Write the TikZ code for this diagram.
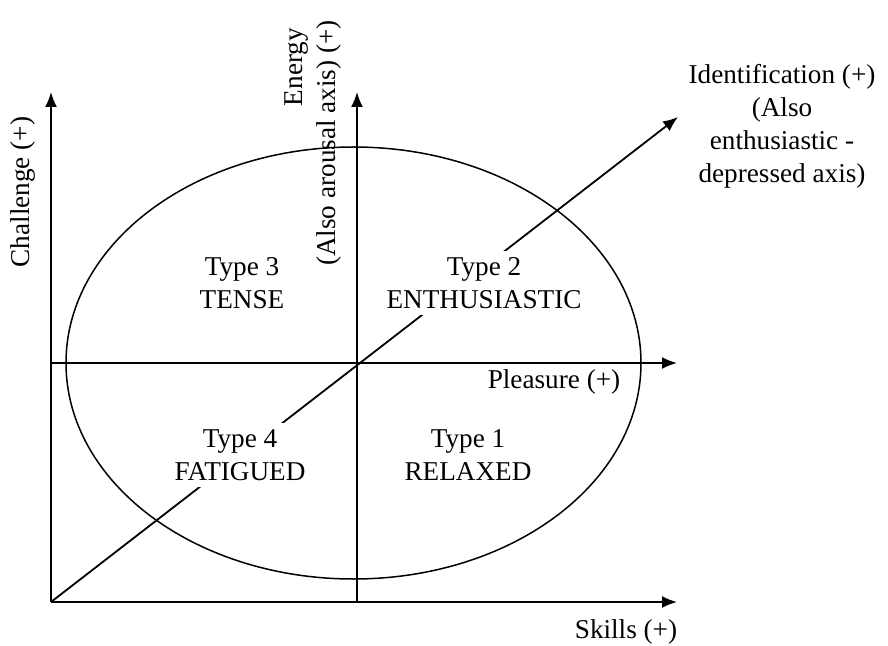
\documentclass[tikz,border=0pt]{standalone}
\usepackage{fontspec}
\setmainfont{Liberation Serif}
\usetikzlibrary{arrows.meta}
\begin{document}
\begin{tikzpicture}[x=0.5pt, y=-0.5pt,
  axis/.style={line width=0.9pt, -{Latex[length=7.5pt,width=6pt]}},
  lbl/.style={font=\fontsize{13.6}{16.5}\selectfont, align=center, inner sep=0pt},
  quad/.style={lbl, fill=white, inner sep=3pt}]
\useasboundingbox (0,0) rectangle (888,646);
\coordinate (O) at (51,602);
\coordinate (X) at (677,602);
\coordinate (Y) at (51,92);
\coordinate (M) at (357,363);
\coordinate (W) at (51,363);
\coordinate (P) at (677,363);
\coordinate (S) at (357,602);
\coordinate (E) at (357,92);
\coordinate (I) at (678,117);
\draw[line width=0.75pt] (353.5,363) ellipse [x radius=287.5, y radius=216];
\draw[axis] (O) -- (X);
\draw[axis] (O) -- (Y);
\draw[axis] (W) -- (P);
\draw[axis] (S) -- (E);
\draw[axis] (O) -- (I);
\node[quad] (t3) at (242,283) {Type 3\\TENSE};
\node[quad] (t2) at (484,283) {Type 2\\ENTHUSIASTIC};
\node[quad] (t4) at (240,455) {Type 4\\FATIGUED};
\node[quad] (t1) at (468,455) {Type 1\\RELAXED};
\node[lbl] (pl) at (554,382) {Pleasure (+)};
\node[lbl] (sk) at (626,632) {Skills (+)};
\node[lbl, rotate=90] (ch) at (23,192) {Challenge (+)};
\node[lbl, rotate=90] (en) at (297,67) {Energy};
\node[lbl, rotate=90] (ar) at (329,143) {(Also arousal axis) (+)};
\node[lbl] (id) at (782,126) {Identification (+)\\(Also\\enthusiastic -\\depressed axis)};
\end{tikzpicture}
\end{document}
